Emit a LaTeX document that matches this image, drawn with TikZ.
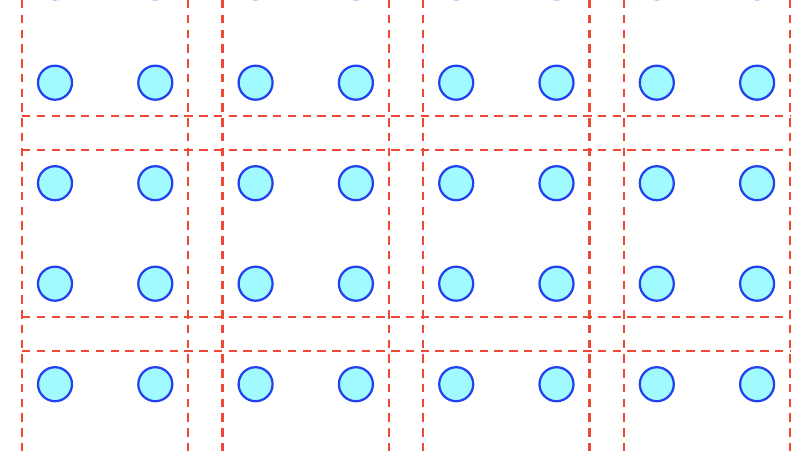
\documentclass[tikz,border=0pt]{standalone}
\usetikzlibrary{positioning}
\definecolor{pf}{RGB}{160,250,255}
\definecolor{pl}{RGB}{35,65,240}
\definecolor{tb}{RGB}{240,72,52}

\begin{document}
\begin{tikzpicture}[x=0.025cm,y=-0.025cm,
    pin/.style={circle,draw=pl,fill=pf,line width=1.6pt,minimum size=0.85cm,inner sep=0pt},
    bnd/.style={draw=tb,line width=1.7pt,dash pattern=on 6pt off 4.5pt},
]
\clip (0,0) rectangle (808,455);

% Tile borders (vertical)
\foreach \i in {0,...,3} {
    \draw[bnd] ({22+200.6*\i},0) -- ({22+200.6*\i},455);
    \draw[bnd] ({188.3+200.6*\i},0) -- ({188.3+200.6*\i},455);
}

% Tile borders (horizontal)
\foreach \y in {116,150,317,351}
    \draw[bnd] (22,\y) -- (790,\y);

% Pins
\foreach \r in {0,...,4}
    \foreach \c in {0,...,7}
        \node[pin] (p\r\c) at ({55+100.3*\c},{-17.8+100.5*\r}) {};
\end{tikzpicture}
\end{document}
